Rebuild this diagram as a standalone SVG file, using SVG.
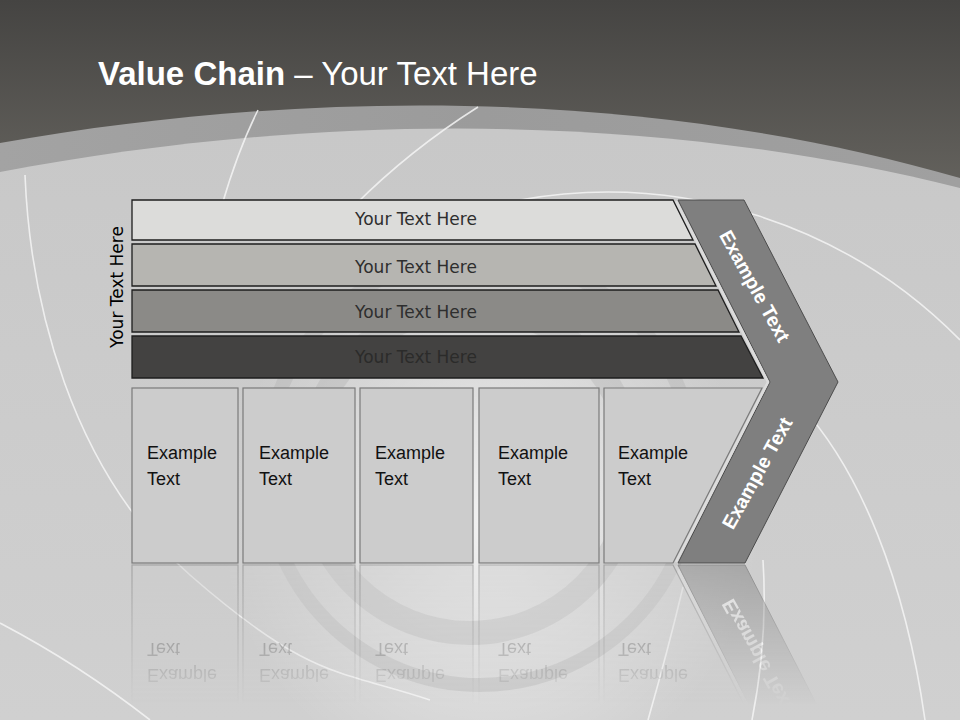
<svg xmlns="http://www.w3.org/2000/svg" xmlns:xlink="http://www.w3.org/1999/xlink" width="960" height="720" viewBox="0 0 960 720">
<defs>
<linearGradient id="topGrad" gradientUnits="userSpaceOnUse" x1="0" y1="0" x2="0" y2="200"><stop offset="0" stop-color="#454442"/><stop offset="1" stop-color="#66645f"/></linearGradient>
<linearGradient id="bandGrad" x1="0" y1="0" x2="1" y2="0"><stop offset="0" stop-color="#a3a3a3"/><stop offset="0.5" stop-color="#9b9b9b"/><stop offset="1" stop-color="#a0a0a0"/></linearGradient>
<linearGradient id="lightGrad" gradientUnits="userSpaceOnUse" x1="0" y1="130" x2="0" y2="720"><stop offset="0" stop-color="#c8c8c8"/><stop offset="1" stop-color="#d0d0d0"/></linearGradient>
<radialGradient id="glow" gradientUnits="userSpaceOnUse" cx="490" cy="520" r="270"><stop offset="0" stop-color="#ffffff" stop-opacity="0.75"/><stop offset="0.5" stop-color="#ffffff" stop-opacity="0.35"/><stop offset="1" stop-color="#ffffff" stop-opacity="0"/></radialGradient>
<linearGradient id="fade" gradientUnits="userSpaceOnUse" x1="0" y1="564" x2="0" y2="705"><stop offset="0" stop-color="#ffffff" stop-opacity="0.5"/><stop offset="1" stop-color="#ffffff" stop-opacity="0"/></linearGradient>
<mask id="refMask" maskUnits="userSpaceOnUse" x="0" y="564" width="960" height="156"><rect x="0" y="564" width="960" height="156" fill="url(#fade)"/></mask>
<clipPath id="lowerArm" clipPathUnits="userSpaceOnUse"><rect x="600" y="383" width="300" height="190"/></clipPath>
</defs>
<style>
.bar{stroke:#1e1e1e;stroke-width:1.3}
.barTxt{font-family:"DejaVu Sans",Verdana,sans-serif;font-size:17px;fill:#2e2e2e;text-anchor:middle}
.box{fill:#cccccc;stroke:#7a7a7a;stroke-width:1.2}
.boxTxt{font-family:"Liberation Sans",Arial,sans-serif;font-size:18px;fill:#111111}
.chev{fill:#7f7f7f;stroke:#4c4c4c;stroke-width:1}
.chevTxt{font-family:"Liberation Sans",Arial,sans-serif;font-size:19.5px;font-weight:bold;fill:#ffffff;text-anchor:middle}
.arc{fill:none;stroke:#f5f5f5;stroke-width:1.6;opacity:0.85}
.ring{fill:none;stroke:#a9a9a9;opacity:0.3}
</style>

<!-- background -->
<rect x="0" y="0" width="960" height="720" fill="url(#topGrad)"/>
<path d="M0,143 C300,90 640,86 960,178 L960,720 L0,720 Z" fill="url(#bandGrad)"/>
<path d="M0,172 C300,115 640,108 960,188 L960,720 L0,720 Z" fill="url(#lightGrad)"/>
<ellipse cx="490" cy="520" rx="300" ry="270" fill="url(#glow)"/>
<circle class="ring" cx="470" cy="470" r="163" stroke-width="24"/>
<circle class="ring" cx="480" cy="470" r="215" stroke-width="14"/>
<path class="arc" d="M258,110 Q238,150 222,205"/>
<path class="arc" d="M478,107 Q410,150 355,205"/>
<path class="arc" d="M25,175 C30,300 70,470 190,575 S340,670 430,700" opacity="0.6"/>
<path class="arc" d="M0,623 Q80,665 150,720"/>
<path class="arc" d="M520,200 A495,495 0 0 1 960,340"/>
<path class="arc" d="M800,405 C860,470 905,580 925,720"/>
<path class="arc" d="M763,560 Q768,640 752,720" opacity="0.5"/>
<path class="arc" d="M683,587 Q668,650 648,720" opacity="0.5"/>

<!-- title -->
<text x="98" y="85" font-family="'Liberation Sans',Arial,sans-serif" font-size="33" fill="#ffffff"><tspan font-weight="bold">Value Chain</tspan> – Your Text Here</text>

<!-- side label -->
<text transform="translate(123,287) rotate(-90)" font-family="'DejaVu Sans',Verdana,sans-serif" font-size="17" fill="#000000" text-anchor="middle">Your Text Here</text>

<!-- bars -->
<g id="bar1"><polygon class="bar" points="132,200 673,200 693,240 132,240" fill="#dcdcda"/><text class="barTxt" x="416" y="225">Your Text Here</text></g>
<g id="bar2"><polygon class="bar" points="132,244 695,244 716,286 132,286" fill="#b6b5b1"/><text class="barTxt" x="416" y="273">Your Text Here</text></g>
<g id="bar3"><polygon class="bar" points="132,290 718,290 739,332 132,332" fill="#8b8a87"/><text class="barTxt" x="416" y="318">Your Text Here</text></g>
<g id="bar4"><polygon class="bar" points="132,336 741,336 763,378 132,378" fill="#434241"/><text class="barTxt" x="416" y="363" style="fill:#2b2b2a">Your Text Here</text></g>

<!-- chevron -->
<g id="chevron">
<polygon class="chev" points="678,200 744,200 838,382 745,563 678,563 770,382"/>
<polyline points="676,201 768,382 676,562" fill="none" stroke="#dedede" stroke-width="2.5" opacity="0.9"/>
<text class="chevTxt" transform="translate(755,286) rotate(61)" y="7">Example Text</text>
<text class="chevTxt" transform="translate(757,473) rotate(-61)" y="7">Example Text</text>
</g>

<!-- boxes -->
<g id="boxes">
<g id="box1"><rect class="box" x="132" y="388" width="106" height="175"/><text class="boxTxt" x="147" y="459">Example</text><text class="boxTxt" x="147" y="485">Text</text></g>
<g id="box2"><rect class="box" x="243" y="388" width="112" height="175"/><text class="boxTxt" x="259" y="459">Example</text><text class="boxTxt" x="259" y="485">Text</text></g>
<g id="box3"><rect class="box" x="360" y="388" width="113" height="175"/><text class="boxTxt" x="375" y="459">Example</text><text class="boxTxt" x="375" y="485">Text</text></g>
<g id="box4"><rect class="box" x="479" y="388" width="120" height="175"/><text class="boxTxt" x="498" y="459">Example</text><text class="boxTxt" x="498" y="485">Text</text></g>
<g id="box5"><polygon class="box" points="604,388 762,388 673,563 604,563"/><text class="boxTxt" x="618" y="459">Example</text><text class="boxTxt" x="618" y="485">Text</text></g>
</g>

<!-- reflection -->
<g mask="url(#refMask)">
<g transform="translate(0,1128) scale(1,-1)">
<use xlink:href="#boxes" href="#boxes"/>
<use xlink:href="#chevron" href="#chevron" clip-path="url(#lowerArm)"/>
</g>
</g>
</svg>
